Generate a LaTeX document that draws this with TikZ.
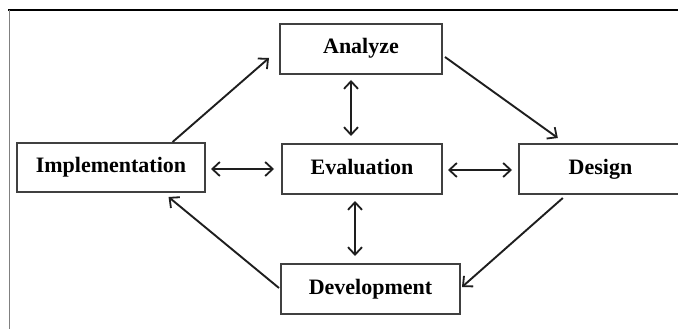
\documentclass[tikz,border=0pt]{standalone}
\usepackage{fontspec}
\setmainfont{Liberation Serif}
\usetikzlibrary{arrows.meta,calc}
\begin{document}
\begin{tikzpicture}[x=1pt,y=-1pt,
  box/.style={draw=boxgray,line width=2pt,fill=white,inner sep=0pt,
    text height=14.5pt,text depth=4.5pt,
    font=\fontsize{22}{24}\selectfont\bfseries,text=black},
  barb/.style={Straight Barb[length=7.5pt,width=14pt,line width=1.8pt]},
  conn/.style={draw=linegray,line width=1.9pt,-{Straight Barb[length=7.5pt,width=14pt,line width=1.8pt]}},
  dconn/.style={draw=linegray,line width=1.9pt,{Straight Barb[length=7.5pt,width=14pt,line width=1.8pt]}-{Straight Barb[length=7.5pt,width=14pt,line width=1.8pt]}}]
\definecolor{boxgray}{HTML}{404040}
\definecolor{linegray}{HTML}{1E1E1E}
\useasboundingbox (0,0) rectangle (678,329);
\fill[white] (0,0) rectangle (678,329);
% frame
\draw[line width=2.4pt,black] (8,10) -- (678,10);
\draw[line width=1pt,gray] (9,10) -- (9,329);
% boxes
\node[box,minimum width=162pt,minimum height=50pt] (ana) at (361,49) {Analyze};
\node[box,minimum width=188pt,minimum height=49pt] (imp) at (111,167.5) {Implementation};
\node[box,minimum width=160pt,minimum height=50pt] (eva) at (362,169) {Evaluation};
\node[box,minimum width=164pt,minimum height=50pt,text width=164pt,align=center] (des) at (601,169) {\hspace*{-1pt}Design};
\node[box,minimum width=179pt,minimum height=50pt] (dev) at (370.5,289) {Development};
% cycle arrows
\draw[conn] ($(imp.north west)!0.824!(imp.north east)$) -- ($(ana.west)+(-10,9)$);
\draw[conn] ($(ana.east)+(2,8)$) -- ($(des.north west)!0.24!(des.north east)+(0,-5)$);
\draw[conn] ($(des.south west)!0.27!(des.south east)+(0,3)$) -- ($(dev.east)+(1,-2)$);
\draw[conn] ($(dev.west)+(-1,-1)$) -- ($(imp.south west)!0.803!(imp.south east)+(0,4)$);
% double arrows
\draw[dconn] ($(ana.south)+(-10,5)$) -- ($(eva.north)+(-11,-7)$);
\draw[dconn] ($(eva.south)+(-7,6)$) -- ($(dev.north)+(-15.5,-7)$);
\draw[dconn] ($(imp.east)+(5,1.5)$) -- ($(eva.west)+(-7,0)$);
\draw[dconn] ($(eva.east)+(5,1)$) -- ($(des.west)+(-6,1)$);
\end{tikzpicture}
\end{document}
